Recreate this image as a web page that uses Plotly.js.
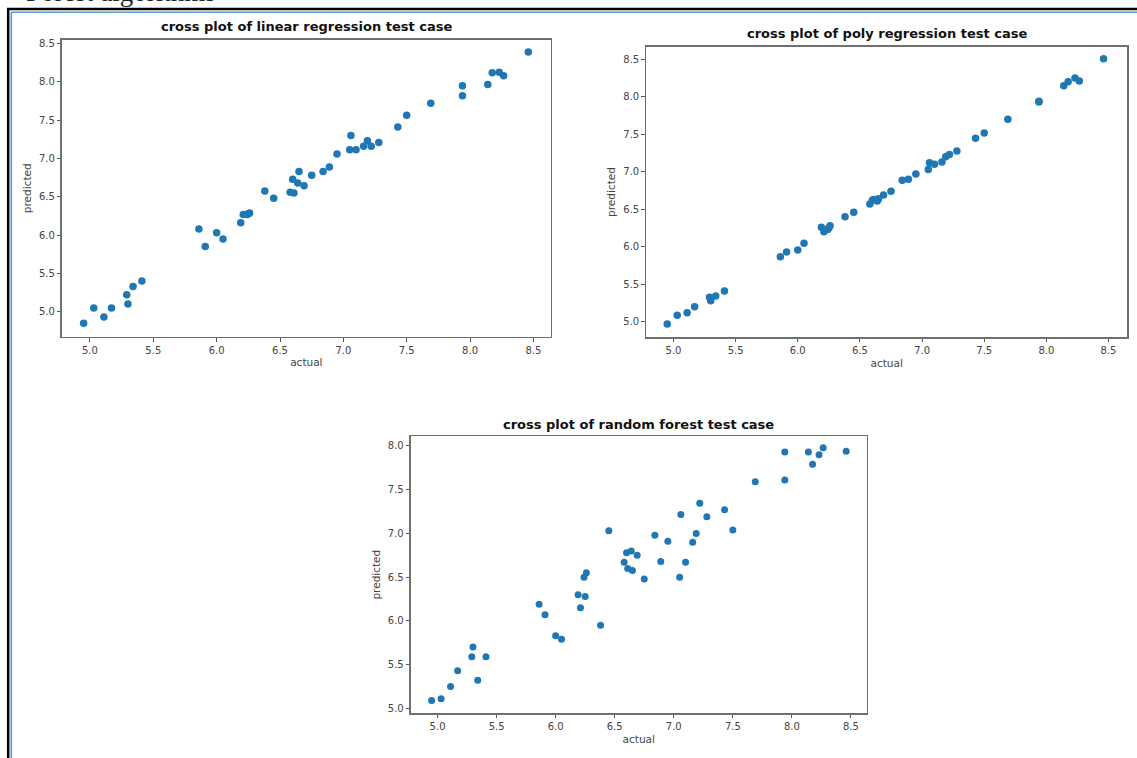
<!DOCTYPE html>
<html>
<head>
<meta charset="utf-8">
<script src="https://cdn.plot.ly/plotly-3.0.1.min.js"></script>
<style>
  html, body { margin: 0; padding: 0; background: #ffffff; }
  #chart { width: 1137px; height: 758px; }
</style>
</head>
<body>
<div id="chart"></div>
<script>
// ---- data ----
const actual = [4.95, 5.03, 5.11, 5.17, 5.29, 5.30, 5.34, 5.41, 5.86, 5.91,
  6.00, 6.05, 6.19, 6.21, 6.24, 6.25, 6.26, 6.38, 6.45, 6.58,
  6.60, 6.64, 6.61, 6.65, 6.69, 6.75, 6.84, 6.89, 6.95, 7.05,
  7.06, 7.10, 7.16, 7.19, 7.22, 7.28, 7.43, 7.50, 7.69, 7.94,
  7.94, 8.14, 8.175, 8.23, 8.265, 8.46];

const linearPred = [4.85, 5.05, 4.93, 5.05, 5.22, 5.10, 5.33, 5.40, 6.08, 5.85,
  6.03, 5.95, 6.16, 6.27, 6.27, 6.28, 6.29, 6.575, 6.48, 6.56,
  6.73, 6.68, 6.55, 6.83, 6.645, 6.78, 6.83, 6.89, 7.06, 7.115,
  7.30, 7.115, 7.16, 7.23, 7.16, 7.21, 7.41, 7.565, 7.72, 7.95,
  7.82, 7.965, 8.12, 8.125, 8.08, 8.39];

const polyPred = [4.97, 5.085, 5.12, 5.20, 5.325, 5.28, 5.343, 5.41, 5.867, 5.93,
  5.956, 6.045, 6.258, 6.20, 6.23, 6.25, 6.28, 6.40, 6.458, 6.57,
  6.62, 6.61, 6.63, 6.64, 6.69, 6.74, 6.885, 6.90, 6.97, 7.03,
  7.12, 7.10, 7.13, 7.20, 7.23, 7.276, 7.445, 7.516, 7.70, 7.94,
  7.93, 8.146, 8.20, 8.25, 8.21, 8.507];

const forestPred = [5.09, 5.11, 5.25, 5.43, 5.59, 5.70, 5.32, 5.59, 6.19, 6.07,
  5.83, 5.79, 6.30, 6.15, 6.50, 6.28, 6.55, 5.95, 7.03, 6.67,
  6.78, 6.80, 6.60, 6.575, 6.75, 6.48, 6.98, 6.68, 6.91, 6.50,
  7.215, 6.67, 6.90, 7.00, 7.345, 7.19, 7.27, 7.04, 7.59, 7.93,
  7.61, 7.93, 7.79, 7.90, 7.98, 7.94];

const plotTitles = [
  "cross plot of linear regression test case",
  "cross plot of poly regression test case",
  "cross plot of random forest test case"
];
const xTitle = "actual";
const yTitle = "predicted";
const xTickVals = [5.0, 5.5, 6.0, 6.5, 7.0, 7.5, 8.0, 8.5];
const yTickVals12 = [5.0, 5.5, 6.0, 6.5, 7.0, 7.5, 8.0, 8.5];
const yTickVals3 = [5.0, 5.5, 6.0, 6.5, 7.0, 7.5, 8.0];
const headingText = "Forest algorithms";

// ---- styling ----
const blue = "#1f77b4";
const W = 1137, H = 758;
const px = v => v / W;           // pixel x -> paper
const py = v => 1 - v / H;       // pixel y -> paper

function scatter(yv, xa, ya, size) {
  return {
    type: "scatter", mode: "markers",
    x: actual, y: yv, xaxis: xa, yaxis: ya,
    marker: { color: blue, size: size, line: { width: 0 } },
    hoverinfo: "x+y", showlegend: false
  };
}

const tickFont = { family: "DejaVu Sans", size: 10, color: "#444" };
const axTitleFont = { family: "DejaVu Sans", size: 10.5, color: "#444" };

function xAxis(domain, range, anchor) {
  return {
    domain: domain, range: range, anchor: anchor,
    tickmode: "array", tickvals: xTickVals, ticktext: xTickVals.map(v => v.toFixed(1)),
    ticks: "outside", ticklen: 3.5, tickwidth: 1, tickcolor: "#555",
    showline: true, mirror: true, linecolor: "#707070", linewidth: 1.3,
    showgrid: false, zeroline: false,
    tickfont: tickFont,
    title: { text: xTitle, standoff: 4, font: axTitleFont },
    automargin: false
  };
}
function yAxis(domain, range, anchor, tv) {
  return {
    domain: domain, range: range, anchor: anchor,
    tickmode: "array", tickvals: tv, ticktext: tv.map(v => v.toFixed(1)),
    ticks: "outside", ticklen: 3.5, tickwidth: 1, tickcolor: "#555",
    showline: true, mirror: true, linecolor: "#707070", linewidth: 1.3,
    showgrid: false, zeroline: false,
    tickfont: tickFont,
    title: { text: yTitle, standoff: 5, font: axTitleFont },
    automargin: false
  };
}

const data = [
  scatter(linearPred, "x", "y", 7.5),
  scatter(polyPred, "x2", "y2", 7.5),
  scatter(forestPred, "x3", "y3", 7)
];

const titleFont = { family: "DejaVu Sans", size: 13, color: "#111", weight: "bold" };

const layout = {
  width: W, height: H,
  margin: { l: 0, r: 0, t: 0, b: 0 },
  paper_bgcolor: "#ffffff", plot_bgcolor: "#ffffff",
  showlegend: false,
  xaxis: xAxis([px(61.7), px(551)], [4.777, 8.639], "y"),
  yaxis: yAxis([py(337), py(39.5)], [4.670, 8.553], "x", yTickVals12),
  xaxis2: xAxis([px(646), px(1127.3)], [4.779, 8.651], "y2"),
  yaxis2: yAxis([py(337.3), py(46.7)], [4.792, 8.667], "x2", yTickVals12),
  xaxis3: xAxis([px(410.5), px(867)], [4.771, 8.636], "y3"),
  yaxis3: yAxis([py(713.3), py(436)], [4.943, 8.114], "x3", yTickVals3),
  annotations: [
    { text: "<b>" + plotTitles[0] + "</b>", xref: "paper", yref: "paper",
      x: px(306.3), y: py(26.5), xanchor: "center", yanchor: "middle", showarrow: false, font: titleFont },
    { text: "<b>" + plotTitles[1] + "</b>", xref: "paper", yref: "paper",
      x: px(886.6), y: py(34), xanchor: "center", yanchor: "middle", showarrow: false, font: titleFont },
    { text: "<b>" + plotTitles[2] + "</b>", xref: "paper", yref: "paper",
      x: px(638.7), y: py(424.5), xanchor: "center", yanchor: "middle", showarrow: false, font: titleFont },
    { text: headingText, xref: "paper", yref: "paper",
      x: px(24), y: py(9.5), xanchor: "left", yanchor: "bottom", showarrow: false,
      font: { family: "Liberation Serif", size: 27, color: "#222" } }
  ],
  shapes: [
    { type: "line", xref: "paper", yref: "paper", x0: px(7), x1: 1, y0: py(9), y1: py(9),
      line: { color: "#000000", width: 2.5 } },
    { type: "line", xref: "paper", yref: "paper", x0: px(8.2), x1: px(8.2), y0: py(9), y1: 0,
      line: { color: "#000000", width: 2.5 } },
    { type: "line", xref: "paper", yref: "paper", x0: px(11), x1: 1, y0: py(12.3), y1: py(12.3),
      line: { color: "#5b9bd5", width: 1.6 } },
    { type: "line", xref: "paper", yref: "paper", x0: px(11.3), x1: px(11.3), y0: py(12.3), y1: 0,
      line: { color: "#5b9bd5", width: 1.6 } }
  ]
};

Plotly.newPlot("chart", data, layout, { displayModeBar: false, staticPlot: true });
</script>
</body>
</html>
